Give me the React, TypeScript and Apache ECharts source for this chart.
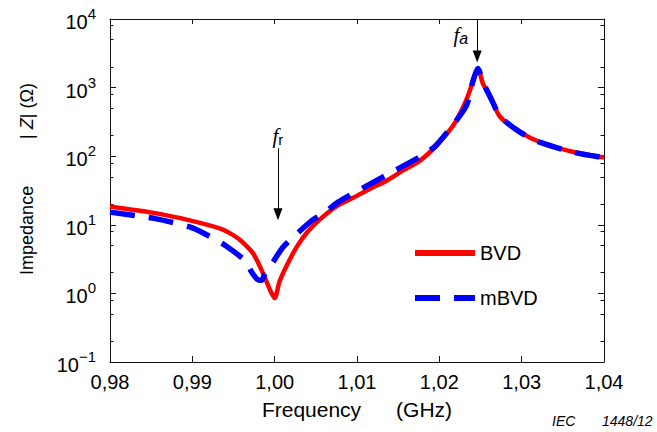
import React, { useEffect, useRef } from 'react';
import * as echarts from 'echarts';

// BVD model (red solid)
const freqBVD = [0.98, 0.9855, 0.9897, 0.9934, 0.9946, 0.9958, 0.9974, 0.9986, 0.9994, 1.0, 1.0006, 1.0015, 1.0027, 1.004, 1.0055, 1.0075, 1.0096, 1.0116, 1.0136, 1.0156, 1.0177, 1.0197, 1.0217, 1.0229, 1.0237, 1.0242, 1.0247, 1.0253, 1.0262, 1.0274, 1.0298, 1.0322, 1.0363, 1.04];
const zBVD = [18.5, 14.8, 11.6, 8.8, 7.5, 6.0, 3.8, 1.95, 1.15, 0.85, 1.5, 2.6, 4.8, 7.9, 12, 18.6, 25, 33.6, 44, 62, 87, 145, 282, 520, 900, 1400, 1860, 1140, 725, 372, 224, 161, 115, 96];

// mBVD model (blue dashed)
const freqMBVD = [0.98, 0.9855, 0.9897, 0.9915, 0.994, 0.9964, 0.9972, 0.9979, 0.9984, 0.9988, 0.9994, 1.001, 1.0029, 1.0047, 1.0059, 1.0077, 1.0098, 1.012, 1.0138, 1.0158, 1.0179, 1.0195, 1.0215, 1.0233, 1.0241, 1.0247, 1.0253, 1.0262, 1.0274, 1.0298, 1.0322, 1.0363, 1.04];
const zMBVD = [15.3, 12.3, 9.3, 7.4, 5.0, 3.0, 2.05, 1.6, 1.55, 1.9, 2.4, 4.7, 7.8, 12, 14.5, 21.4, 30, 41.7, 55, 74, 102, 140, 270, 550, 1260, 1900, 1200, 725, 380, 224, 160, 114, 95];

const seriesNames = ['BVD', 'mBVD'];
const yMajorTicks = [0.1, 1, 10, 100, 1000, 10000];
const yMinorTicks = [0.2, 0.5, 0.8, 2, 5, 8, 20, 50, 80, 200, 500, 800, 2000, 5000, 8000];

// annotation arrows: [freq, startZ, endZ]
const arrowFr = [1.0004, 130, 14.2];
const arrowFa = [1.0246, 10000, 2850];
const labelFr = [1.0004, 195];
const labelFa = [1.0226, 5750];

const SANS = 'Liberation Sans, Arial, sans-serif';
const SERIF = 'Liberation Serif, Times New Roman, serif';

export default function App() {
  const ref = useRef<HTMLDivElement>(null);
  useEffect(() => {
    if (!ref.current) return;
    const chart = echarts.init(ref.current, null, { renderer: 'svg' });
    const axisLineStyle = { color: '#111', width: 1 };
    const yBase = {
      type: 'log',
      logBase: 10,
      min: 0.1,
      max: 10000,
      splitLine: { show: false },
      minorTick: { show: false },
    };
    const option: any = {
      animation: false,
      backgroundColor: '#fff',
      textStyle: { fontFamily: SANS },
      grid: { left: 110, right: 53, top: 19, bottom: 70, containLabel: false, outerBoundsMode: 'none' },
      legend: {
        orient: 'vertical',
        left: 412,
        top: 243,
        padding: 0,
        itemWidth: 60,
        itemHeight: 20,
        itemGap: 25,
        data: seriesNames,
        textStyle: { fontSize: 20, color: '#000', fontFamily: SANS },
        lineStyle: { width: 6 },
        itemStyle: { opacity: 0 },
        selectedMode: false,
      },
      xAxis: [
        {
          type: 'value',
          min: 0.98,
          max: 1.04,
          interval: 0.01,
          name: 'Frequency      (GHz)',
          nameLocation: 'middle',
          nameGap: 37,
          nameTextStyle: { fontSize: 21, color: '#000', fontFamily: SANS },
          axisLine: { show: true, onZero: false, lineStyle: axisLineStyle },
          axisTick: { show: true, inside: true, length: 6, lineStyle: axisLineStyle },
          axisLabel: {
            margin: 10,
            fontSize: 20,
            color: '#000',
            fontFamily: SANS,
            formatter: (v: number) => v.toFixed(2).replace('.', ','),
          },
          splitLine: { show: false },
        },
        {
          type: 'value',
          position: 'top',
          min: 0.98,
          max: 1.04,
          interval: 0.01,
          axisLine: { show: true, onZero: false, lineStyle: axisLineStyle },
          axisTick: { show: true, inside: true, length: 5, lineStyle: axisLineStyle },
          axisLabel: { show: false },
          splitLine: { show: false },
        },
      ],
      yAxis: [
        {
          ...yBase,
          position: 'left',
          name: '{a|Impedance}{b|| }{i|Z}{b|| (Ω)}',
          nameLocation: 'middle',
          nameGap: 74,
          nameTextStyle: {
            fontSize: 18,
            color: '#000',
            fontFamily: SANS,
            rich: {
              a: { fontSize: 18, fontFamily: SANS, color: '#000', padding: [0, 47, 0, 23] },
              b: { fontSize: 18, fontFamily: SANS, color: '#000' },
              i: { fontSize: 18, fontFamily: SANS, color: '#000', fontStyle: 'italic' },
            },
          },
          axisLine: { show: true, onZero: false, lineStyle: axisLineStyle },
          axisTick: { show: true, inside: true, length: 6, lineStyle: axisLineStyle, customValues: yMajorTicks },
          axisLabel: {
            margin: 14,
            color: '#000',
            fontFamily: SANS,
            customValues: yMajorTicks,
            formatter: (v: number) => {
              const e = Math.round(Math.log10(v));
              const s = e < 0 ? '\u2212' + String(-e) : String(e);
              return '{b|10}{s|' + s + '}';
            },
            rich: {
              b: { fontSize: 20, lineHeight: 20, verticalAlign: 'bottom', color: '#000', fontFamily: SANS },
              s: { fontSize: 15, padding: [0, 0, 11, 0], color: '#000', fontFamily: SANS },
            },
          },
        },
        {
          ...yBase,
          position: 'left',
          axisLine: { show: false },
          axisLabel: { show: false },
          axisTick: { show: true, inside: true, length: 3.5, lineStyle: axisLineStyle, customValues: yMinorTicks },
        },
        {
          ...yBase,
          position: 'right',
          axisLine: { show: true, onZero: false, lineStyle: axisLineStyle },
          axisLabel: { show: false },
          axisTick: { show: true, inside: true, length: 6, lineStyle: axisLineStyle, customValues: yMajorTicks },
        },
        {
          ...yBase,
          position: 'right',
          axisLine: { show: false },
          axisLabel: { show: false },
          axisTick: { show: true, inside: true, length: 3.5, lineStyle: axisLineStyle, customValues: yMinorTicks },
        },
      ],
      series: [
        {
          name: seriesNames[0],
          type: 'line',
          xAxisIndex: 0,
          yAxisIndex: 0,
          data: freqBVD.map((f, i) => [f, zBVD[i]]),
          symbol: 'none',
          showSymbol: false,
          smooth: 0.25,
          color: '#ff0000',
          lineStyle: { color: '#ff0000', width: 4.5, type: 'solid' },
          z: 2,
          markLine: {
            silent: true,
            symbol: ['none', 'triangle'],
            symbolSize: [9, 12],
            lineStyle: { color: '#000', width: 1, type: 'solid' },
            label: { show: false },
            data: [
              [{ coord: [arrowFr[0], arrowFr[1]] }, { coord: [arrowFr[0], arrowFr[2]] }],
              [{ coord: [arrowFa[0], arrowFa[1]] }, { coord: [arrowFa[0], arrowFa[2]] }],
            ],
          },
          markPoint: {
            silent: true,
            symbol: 'circle',
            symbolSize: 0,
            itemStyle: { color: 'transparent' },
            data: [
              {
                coord: labelFr,
                label: { show: true, position: 'inside', formatter: '{f|f}{s|r}' },
              },
              {
                coord: labelFa,
                label: { show: true, position: 'inside', formatter: '{f|f}{t|a}' },
              },
            ],
            label: {
              show: true,
              color: '#000',
              rich: {
                f: { fontSize: 21, lineHeight: 22, fontFamily: SERIF, fontStyle: 'italic', color: '#000' },
                s: { fontSize: 15, lineHeight: 15, verticalAlign: 'bottom', fontFamily: SANS, color: '#000' },
                t: { fontSize: 16, lineHeight: 16, verticalAlign: 'bottom', fontFamily: SANS, fontStyle: 'italic', color: '#000' },
              },
            },
          },
        },
        {
          name: seriesNames[1],
          type: 'line',
          xAxisIndex: 0,
          yAxisIndex: 0,
          data: freqMBVD.map((f, i) => [f, zMBVD[i]]),
          symbol: 'none',
          showSymbol: false,
          smooth: 0.25,
          color: '#0000ff',
          lineStyle: { color: '#0000ff', width: 5.5, type: [25, 14], cap: 'butt' },
          z: 3,
        },
      ],
      graphic: [
        {
          type: 'text',
          left: 552,
          top: 414,
          style: { text: 'IEC', font: 'italic 14px Liberation Sans, Arial, sans-serif', fill: '#000' },
        },
        {
          type: 'text',
          left: 602,
          top: 414,
          style: { text: '1448/12', font: 'italic 14px Liberation Sans, Arial, sans-serif', fill: '#000' },
        },
      ],
    };
    chart.setOption(option);
    return () => chart.dispose();
  }, []);
  return <div ref={ref} style={{ position: 'fixed', left: 0, top: 0, width: 657, height: 432, background: '#fff' }} />;
}
